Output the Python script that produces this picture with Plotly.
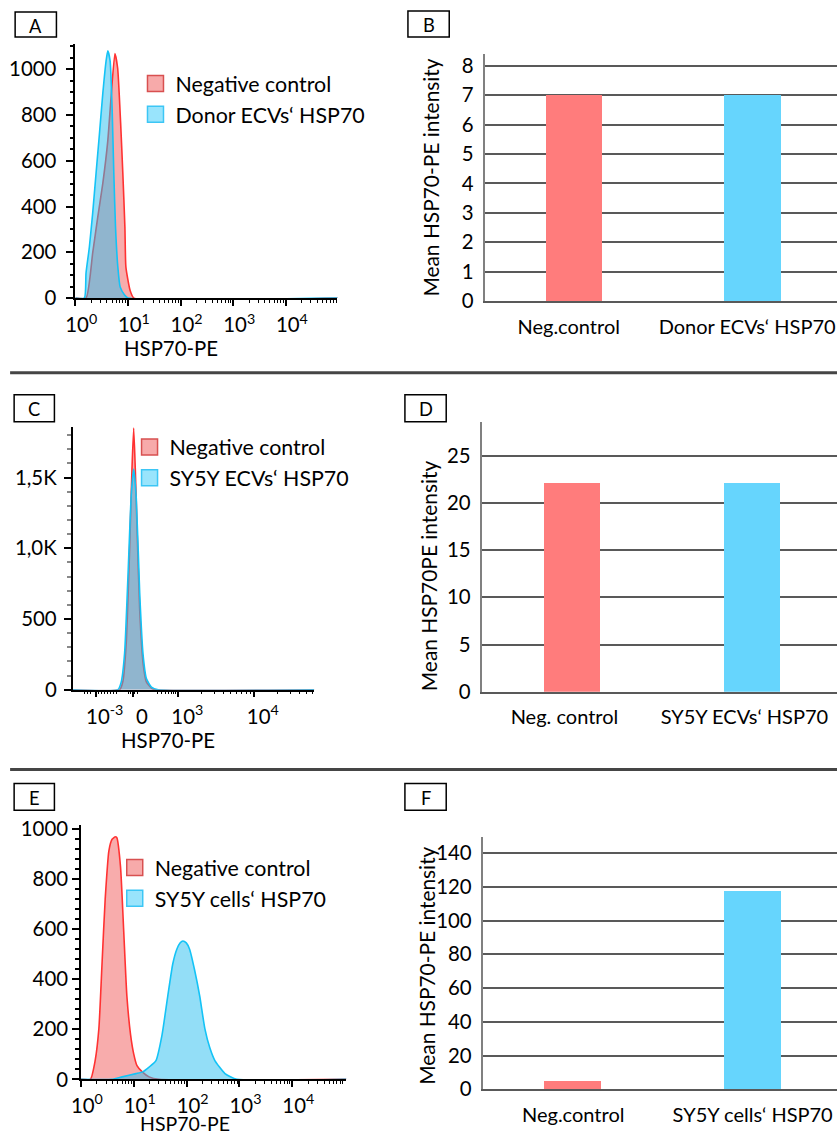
import plotly.graph_objects as go

W, H = 837, 1148
FONT = "Lato"

# ---------------- data ----------------
# Panel A: HSP70-PE histogram, donor ECVs (x = fluorescence, y = count)
a_neg_x = [1.0, 1.60, 2.14, 2.67, 3.33, 4.15, 4.73, 5.66, 6.38, 7.28, 8.01, 8.77, 9.16, 10.96, 13.0, 100000]
a_neg_y = [0, 0, 196, 353, 500, 688, 862, 1068, 1005, 762, 544, 309, 135, 35, 0, 0]
a_don_x = [1.0, 1.49, 1.60, 1.85, 2.14, 2.48, 2.88, 3.33, 3.85, 4.15, 4.59, 5.01, 5.40, 5.82, 6.44, 7.13, 8.65, 10.0, 100000]
a_don_y = [0, 0, 109, 222, 370, 544, 718, 892, 1036, 1080, 1036, 832, 544, 309, 135, 48, 13, 0, 0]

# Panel C: HSP70-PE histogram, SY5Y ECVs (x = display channel of biexponential scale)
c_neg_x = [0, 46.7, 50, 53.3, 56.7, 59, 60.7, 62.3, 64, 66.7, 70, 73.3, 78.3, 82, 240]
c_neg_y = [0, 0, 60, 330, 1000, 1560, 1850, 1560, 1150, 560, 190, 55, 12, 0, 0]
c_sy_x = [0, 45, 48.3, 51.7, 55, 58.3, 60.7, 63.3, 66.7, 70, 73.3, 78.3, 85, 240]
c_sy_y = [0, 0, 54, 260, 800, 1380, 1560, 1350, 680, 250, 80, 19, 0, 0]

# Panel E: HSP70-PE histogram, SY5Y cells
e_neg_x = [1.0, 1.51, 1.86, 2.19, 2.51, 2.88, 3.39, 3.89, 4.47, 4.79, 5.62, 6.46, 7.41, 8.71, 10.0, 11.5, 14.5, 19.5, 30.2, 110000]
e_neg_y = [0, 0, 75, 204, 462, 720, 914, 959, 969, 965, 849, 591, 333, 178, 101, 55, 30, 10, 0, 0]
e_sy_x = [1.0, 3.89, 6.03, 11.0, 14.8, 19.5, 26.3, 34.3, 44.0, 54.8, 65.3, 75.7, 85.1, 98.6, 114, 142, 177, 221, 275, 343, 532, 889, 110000]
e_sy_y = [0, 0, 10, 23, 30, 49, 75, 178, 333, 462, 520, 546, 553, 545, 520, 436, 333, 204, 126, 75, 23, 0, 0]

# Bar panels: mean HSP70-PE intensity
b_cats = ["Neg.control", "Donor ECVs‘ HSP70"]
b_vals = [7.0, 7.0]
d_cats = ["Neg. control", "SY5Y ECVs‘ HSP70"]
d_vals = [22.1, 22.1]
f_cats = ["Neg.control", "SY5Y cells‘ HSP70"]
f_vals = [5.0, 117.3]

# Tick labels
log_tick_vals = [1, 10, 100, 1000, 10000]
log_tick_text = ["10<sup>0</sup>", "10<sup>1</sup>", "10<sup>2</sup>", "10<sup>3</sup>", "10<sup>4</sup>"]
log_minor_vals = [m * 10 ** d for d in range(0, 6) for m in range(2, 10)]
c_tick_vals = [23, 60, 105, 180]
c_tick_text = ["10<sup>-3</sup>", "0", "10<sup>3</sup>", "10<sup>4</sup>"]
c_minor_vals = [12, 15, 18, 26, 29, 32, 35, 38, 41, 44, 56, 58, 62, 64, 84, 88, 92, 95, 98, 100, 102,
                128, 141, 150, 157, 163, 168, 173, 177, 203, 216, 225, 232, 238]
c_y_vals = [0, 500, 1000, 1500]
c_y_text = ["0", "500", "1,0K", "1,5K"]

# ---------------- style ----------------
NEG_LINE = "#FF3232"
NEG_FILL = "rgba(240,70,70,0.45)"
POS_LINE = "#14C3F6"
POS_FILL = "rgba(40,190,240,0.5)"
BAR_RED = "#FF7C7C"
BAR_BLUE = "#66D5FD"

# The photographed page shows the figure slightly reduced inside a small white border,
# so layout positions (measured on the reference, in pixels) are mapped accordingly.
SX, SY, OX, OY = 0.981, 0.986, 7.9, 7.9


def px(x):
    return min((x - OX) / SX, W)


def py(y):
    return min((y - OY) / SY, H)


def xd(l, r):
    return [px(l) / W, px(r) / W]


def yd(t, b):
    return [1 - py(b) / H, 1 - py(t) / H]


def merge(*ds, **kw):
    out = {}
    for d in ds:
        out.update(d)
    out.update(kw)
    return out


def hist(x, y, line, fill, xa, ya):
    return go.Scatter(x=x, y=y, mode="lines", fill="tozeroy", fillcolor=fill,
                      line=dict(color=line, width=1.6, shape="spline", smoothing=0.5),
                      xaxis=xa, yaxis=ya, showlegend=False, hoverinfo="skip")


def leg(name, fill, edge, legend_id, xa, ya):
    return go.Scatter(x=[None], y=[None], mode="markers", name=name, legend=legend_id,
                      marker=dict(symbol="square", size=16, color=fill, line=dict(color=edge, width=1.5)),
                      xaxis=xa, yaxis=ya, showlegend=True)


LEG_NEG_FILL = "rgba(240,100,100,0.55)"
LEG_NEG_EDGE = "#D85050"
LEG_POS_FILL = "rgba(70,205,250,0.55)"
LEG_POS_EDGE = "#3CC6F5"

fig = go.Figure()

# A
fig.add_trace(hist(a_neg_x, a_neg_y, NEG_LINE, NEG_FILL, "x", "y"))
fig.add_trace(hist(a_don_x, a_don_y, POS_LINE, POS_FILL, "x", "y"))
fig.add_trace(leg("Negative control", LEG_NEG_FILL, LEG_NEG_EDGE, "legend", "x", "y"))
fig.add_trace(leg("Donor ECVs‘ HSP70", LEG_POS_FILL, LEG_POS_EDGE, "legend", "x", "y"))
# B
fig.add_trace(go.Bar(x=b_cats, y=b_vals, marker=dict(color=[BAR_RED, BAR_BLUE], line=dict(width=0)),
                     width=0.316, xaxis="x2", yaxis="y2", showlegend=False))
# C
fig.add_trace(hist(c_neg_x, c_neg_y, NEG_LINE, NEG_FILL, "x3", "y3"))
fig.add_trace(hist(c_sy_x, c_sy_y, POS_LINE, POS_FILL, "x3", "y3"))
fig.add_trace(leg("Negative control", LEG_NEG_FILL, LEG_NEG_EDGE, "legend2", "x3", "y3"))
fig.add_trace(leg("SY5Y ECVs‘ HSP70", LEG_POS_FILL, LEG_POS_EDGE, "legend2", "x3", "y3"))
# D
fig.add_trace(go.Bar(x=d_cats, y=d_vals, marker=dict(color=[BAR_RED, BAR_BLUE], line=dict(width=0)),
                     width=0.316, xaxis="x4", yaxis="y4", showlegend=False))
# E
fig.add_trace(hist(e_neg_x, e_neg_y, NEG_LINE, NEG_FILL, "x5", "y5"))
fig.add_trace(hist(e_sy_x, e_sy_y, POS_LINE, POS_FILL, "x5", "y5"))
fig.add_trace(leg("Negative control", LEG_NEG_FILL, LEG_NEG_EDGE, "legend3", "x5", "y5"))
fig.add_trace(leg("SY5Y cells‘ HSP70", LEG_POS_FILL, LEG_POS_EDGE, "legend3", "x5", "y5"))
# F
fig.add_trace(go.Bar(x=f_cats, y=f_vals, marker=dict(color=[BAR_RED, BAR_BLUE], line=dict(width=0)),
                     width=0.316, xaxis="x6", yaxis="y6", showlegend=False))

# ---------------- axes ----------------
TF = 20.4
hax = dict(showline=True, linecolor="black", linewidth=1.5, ticks="outside", ticklen=6, tickwidth=1.5,
           tickcolor="black", showgrid=False, zeroline=False, tickfont=dict(size=TF, family=FONT))
logx = dict(type="log", tickmode="array", tickvals=log_tick_vals, ticktext=log_tick_text,
            ticklabelshift=6, ticklabelstandoff=2,
            minor=dict(tickmode="array", tickvals=log_minor_vals, ticks="outside", ticklen=3,
                       tickwidth=1, tickcolor="black"))
bxa = dict(type="category", range=[-0.5, 1.47], showline=True, linecolor="#595959", linewidth=1.5,
           ticks="", showgrid=False, zeroline=False, tickfont=dict(size=20, family=FONT),
           ticklabelstandoff=7)
bya = dict(showline=True, linecolor="#808080", linewidth=1.5, ticks="", showgrid=True,
           gridcolor="#595959", gridwidth=1.5, zeroline=False, tickfont=dict(size=TF, family=FONT),
           ticklabelstandoff=6)

fig.update_layout(
    xaxis=merge(hax, logx, domain=xd(72.7, 333), range=[0, 4.98], anchor="y"),
    yaxis=merge(hax, domain=yd(43, 298), range=[0, 1110], anchor="x", dtick=200, tick0=0,
                ticklen=8, ticklabelstandoff=5,
                minor=dict(dtick=50, tick0=0, ticks="outside", ticklen=4, tickcolor="black")),
    xaxis2=merge(bxa, domain=xd(480, 837), anchor="y2", ticklabelshift=-6),
    yaxis2=merge(bya, domain=yd(53, 301), range=[0, 8.4], dtick=1, tick0=0, anchor="x2"),
    xaxis3=merge(hax, domain=xd(70, 310), range=[0, 240], anchor="y3", tickmode="array",
                 tickvals=c_tick_vals, ticktext=c_tick_text, ticklabelshift=9, ticklabelstandoff=2,
                 minor=dict(tickmode="array", tickvals=c_minor_vals, ticks="outside", ticklen=3,
                            tickwidth=1, tickcolor="black")),
    yaxis3=merge(hax, domain=yd(427, 691), range=[0, 1860], anchor="x3", tickmode="array",
                 tickvals=c_y_vals, ticktext=c_y_text, ticklen=7, ticklabelstandoff=3,
                 minor=dict(tickmode="linear", tick0=0, dtick=100, ticks="outside", ticklen=4,
                            tickcolor="#888")),
    xaxis4=merge(bxa, domain=xd(477, 837), anchor="y4", ticklabelshift=-8),
    yaxis4=merge(bya, domain=yd(422, 693), range=[0, 28.6], dtick=5, tick0=0, anchor="x4"),
    xaxis5=merge(hax, logx, domain=xd(78.3, 341.7), range=[0, 5.02], anchor="y5",
                 ticklabelstandoff=1),
    yaxis5=merge(hax, domain=yd(827, 1082), range=[0, 1015], anchor="x5", dtick=200, tick0=0,
                 ticklen=7, minor=dict(dtick=40, tick0=0, ticks="outside", ticklen=4, tickcolor="black")),
    xaxis6=merge(bxa, domain=xd(478, 837), anchor="y6"),
    yaxis6=merge(bya, domain=yd(839, 1092), range=[0, 149.4], dtick=20, tick0=0, anchor="x6"),
)

legend_common = dict(xanchor="left", yanchor="top", bgcolor="rgba(0,0,0,0)", borderwidth=0,
                     font=dict(size=21.4, family=FONT, color="black"), tracegroupgap=0)
fig.update_layout(
    legend=merge(legend_common, x=127 / W, y=1 - 55 / H),
    legend2=merge(legend_common, x=121 / W, y=1 - 425 / H),
    legend3=merge(legend_common, x=106 / W, y=1 - 853 / H),
)

# ---------------- annotations & shapes ----------------
annotations = []
shapes = []


def ann(text, x, y, size=20.4, angle=0, yanchor="middle"):
    annotations.append(dict(text=text, x=x / W, y=1 - y / H, xref="paper", yref="paper",
                            showarrow=False, textangle=angle, xanchor="center", yanchor=yanchor,
                            font=dict(size=size, family=FONT, color="black")))


# axis titles (reference pixel positions mapped to layout positions)
ann("HSP70-PE", px(168), py(348))
ann("HSP70-PE", px(165), py(741))
ann("HSP70-PE", px(182), H, size=19.5, yanchor="bottom")
ann("Mean HSP70-PE intensity", px(425), py(177), size=20.9, angle=-90)
ann("Mean HSP70PE intensity", px(423), py(577), size=20.9, angle=-90)
ann("Mean HSP70-PE intensity", px(422), py(968), size=20.9, angle=-90)

# panel letters in boxes
for letter, (l, t, r, b) in {
    "A": (13, 11, 54, 36), "B": (403, 10, 444, 36),
    "C": (12, 395, 52, 422), "D": (400, 395, 441, 422),
    "E": (12, 785, 52, 812), "F": (400, 785, 441, 812),
}.items():
    shapes.append(dict(type="rect", xref="paper", yref="paper", x0=px(l) / W, x1=px(r) / W,
                       y0=1 - py(b) / H, y1=1 - py(t) / H, line=dict(color="black", width=1.5)))
    ann(letter, px((l + r) / 2), py((t + b) / 2 + 1), size=18.3)

# separators
for ysep in (373, 771):
    shapes.append(dict(type="line", xref="paper", yref="paper", x0=max(px(8), 0) / W, x1=1,
                       y0=1 - py(ysep) / H, y1=1 - py(ysep) / H, line=dict(color="#454545", width=3)))

fig.update_layout(
    width=W, height=H, margin=dict(l=0, r=0, t=0, b=0),
    paper_bgcolor="white", plot_bgcolor="white",
    font=dict(family=FONT, size=20, color="black"),
    annotations=annotations, shapes=shapes, showlegend=True, bargap=0,
)

fig.write_html("out.html", config={"responsive": False, "displayModeBar": False},
               post_script="document.body.style.margin='0';document.body.style.overflow='hidden';")
